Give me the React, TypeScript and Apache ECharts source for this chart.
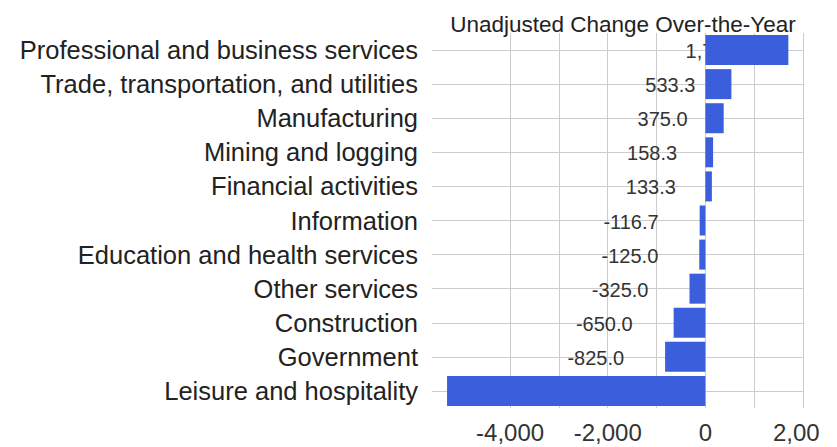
import React, { useEffect, useRef } from "react";
import * as echarts from "echarts";

const categories = [
  "Professional and business services",
  "Trade, transportation, and utilities",
  "Manufacturing",
  "Mining and logging",
  "Financial activities",
  "Information",
  "Education and health services",
  "Other services",
  "Construction",
  "Government",
  "Leisure and hospitality",
];

const changeValues = [1700.0, 533.3, 375.0, 158.3, 133.3, -116.7, -125.0, -325.0, -650.0, -825.0, -5291.7];

const gridTicks = [-5000, -4000, -3000, -2000, -1000, 0, 1000, 2000];
const labelTicks = [-4000, -2000, 0, 2000];

const titleText = "Unadjusted Change Over-the-Year";

const FONT = "'Liberation Sans', Arial, Helvetica, sans-serif";
const BAR_COLOR = "#3b5edc";

const fmtValue = new Intl.NumberFormat("en-US", { minimumFractionDigits: 1, maximumFractionDigits: 1 });
const fmtAxis = new Intl.NumberFormat("en-US", { maximumFractionDigits: 0 });

export default function App() {
  const ref = useRef<HTMLDivElement>(null);

  useEffect(() => {
    if (!ref.current) return;
    const chart = echarts.init(ref.current, undefined, { renderer: "svg" });
    chart.setOption({
      animation: false,
      backgroundColor: "#ffffff",
      title: {
        text: titleText,
        left: 618,
        top: 8,
        textAlign: "center",
        textStyle: { fontFamily: FONT, fontSize: 22.5, fontWeight: "normal", color: "#222" },
      },
      grid: { left: 432, right: 34, top: 33, bottom: 39, containLabel: false },
      xAxis: {
        type: "value",
        min: -5600,
        max: 2000,
        axisLine: { show: false },
        axisTick: { show: false, customValues: gridTicks },
        axisLabel: {
          customValues: labelTicks,
          formatter: (v: number) => fmtAxis.format(v),
          fontFamily: FONT,
          fontSize: 24,
          color: "#333",
          margin: 12,
        },
        splitLine: { show: true, showMinLine: false, lineStyle: { color: "#cccccc", width: 1 } },
      },
      yAxis: {
        type: "category",
        inverse: true,
        data: categories,
        axisLine: { show: false },
        axisTick: { show: false, alignWithLabel: true },
        axisLabel: { fontFamily: FONT, fontSize: 25.5, color: "#222", margin: 14 },
        splitLine: { show: true, alignWithLabel: true, lineStyle: { color: "#cccccc", width: 1 } },
      },
      series: [
        {
          type: "custom",
          z: 1,
          clip: true,
          data: changeValues.map((v, i) => [v, i]),
          renderItem: (params: any, api: any) => {
            const v = api.value(0);
            const idx = api.value(1);
            const p = api.coord([v, idx]);
            const off = v >= 0 ? 36 : 41;
            const x = p[0] - off;
            if (x < params.coordSys.x) return null;
            return {
              type: "text",
              x,
              y: p[1] + 1,
              style: {
                text: fmtValue.format(v),
                textAlign: "right",
                textVerticalAlign: "middle",
                fill: "#333",
                font: `20px ${FONT}`,
              },
            };
          },
        },
        {
          type: "bar",
          z: 2,
          data: changeValues,
          barCategoryGap: "12%",
          itemStyle: { color: BAR_COLOR },
        },
      ],
    });
    return () => chart.dispose();
  }, []);

  return (
    <div style={{ position: "fixed", left: 0, top: 0, width: 820, height: 447, overflow: "hidden", background: "#fff" }}>
      <div ref={ref} style={{ width: 837, height: 447 }} />
    </div>
  );
}
